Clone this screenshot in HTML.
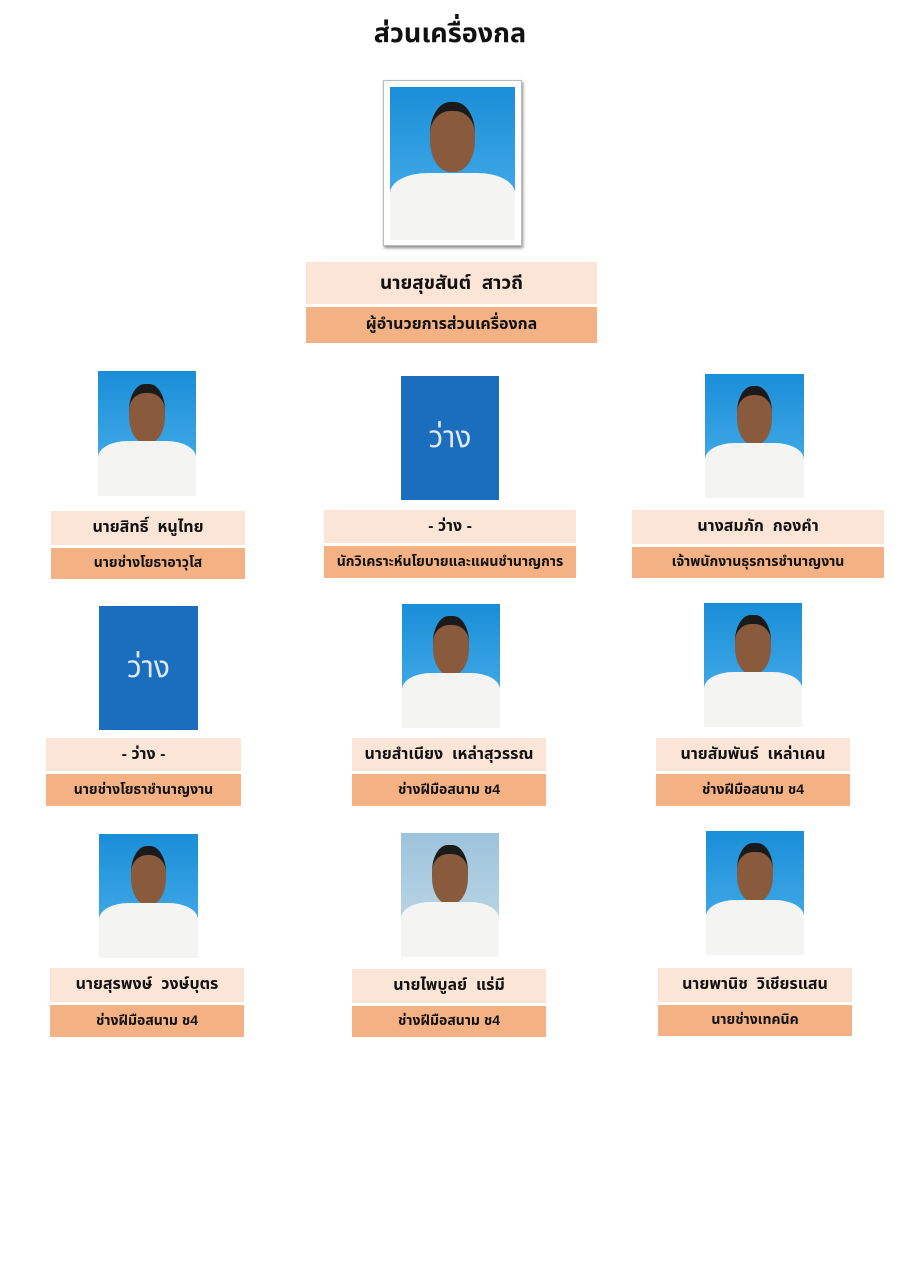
<!DOCTYPE html>
<html><head><meta charset="utf-8">
<style>
body{margin:0;background:#fff;}
#c{position:relative;width:900px;height:1272px;font-family:"Liberation Sans","Noto Sans Thai","Garuda","Loma",sans-serif;font-weight:bold;color:#111;}
.a{position:absolute;box-sizing:border-box;}
.n{background:#fbe5d6;display:flex;align-items:center;justify-content:center;font-size:16px;}
.p{background:#f4b183;display:flex;align-items:center;justify-content:center;font-size:14px;}
.ph{background:linear-gradient(#1a8ed8,#4fb3ec);overflow:hidden;}
.ph .h{position:absolute;left:32%;top:10%;width:36%;height:40%;border-radius:45%;background:#8a5a3c;border-top:9px solid #1a1a1a;}
.ph .b{position:absolute;left:0;right:0;bottom:0;height:44%;background:#f4f4f2;border-radius:30% 30% 0 0;}
.v{background:#1b6dbd;color:#dfe9f6;font-weight:normal;font-size:30px;display:flex;align-items:center;justify-content:center;}
</style></head><body><div id="c">
<div class="a" style="left:0;width:900px;top:14px;text-align:center;font-size:27px;">ส่วนเครื่องกล</div>
<div class="a" style="left:383px;top:80px;width:139px;height:166px;border:1px solid #bbb;box-shadow:1px 2px 3px #888;background:#fff"></div>
<div class="a ph" style="left:390px;top:87px;width:125px;height:153px"><div class="h"></div><div class="b"></div></div>
<div class="a n" style="left:306px;top:262px;width:291px;height:42px;font-size:19px">นายสุขสันต์&nbsp; สาวถี</div>
<div class="a p" style="left:306px;top:307px;width:291px;height:36px;font-size:16px">ผู้อำนวยการส่วนเครื่องกล</div>

<div class="a ph" style="left:98px;top:371px;width:98px;height:125px"><div class="h"></div><div class="b"></div></div>
<div class="a v" style="left:401px;top:376px;width:98px;height:124px">ว่าง</div>
<div class="a ph" style="left:705px;top:374px;width:99px;height:124px"><div class="h"></div><div class="b"></div></div>
<div class="a n" style="left:51px;top:511px;width:194px;height:34px">นายสิทธิ์&nbsp; หนูไทย</div>
<div class="a p" style="left:51px;top:548px;width:194px;height:31px">นายช่างโยธาอาวุโส</div>
<div class="a n" style="left:324px;top:510px;width:252px;height:33px">- ว่าง -</div>
<div class="a p" style="left:324px;top:546px;width:252px;height:32px">นักวิเคราะห์นโยบายและแผนชำนาญการ</div>
<div class="a n" style="left:632px;top:510px;width:252px;height:34px">นางสมภัก&nbsp; กองคำ</div>
<div class="a p" style="left:632px;top:547px;width:252px;height:31px">เจ้าพนักงานธุรการชำนาญงาน</div>

<div class="a v" style="left:99px;top:606px;width:99px;height:124px">ว่าง</div>
<div class="a ph" style="left:402px;top:604px;width:98px;height:124px"><div class="h"></div><div class="b"></div></div>
<div class="a ph" style="left:704px;top:603px;width:98px;height:124px"><div class="h"></div><div class="b"></div></div>
<div class="a n" style="left:46px;top:738px;width:195px;height:33px">- ว่าง -</div>
<div class="a p" style="left:46px;top:774px;width:195px;height:32px">นายช่างโยธาชำนาญงาน</div>
<div class="a n" style="left:352px;top:738px;width:194px;height:33px">นายสำเนียง&nbsp; เหล่าสุวรรณ</div>
<div class="a p" style="left:352px;top:774px;width:194px;height:32px">ช่างฝีมือสนาม ช4</div>
<div class="a n" style="left:656px;top:738px;width:194px;height:33px">นายสัมพันธ์&nbsp; เหล่าเคน</div>
<div class="a p" style="left:656px;top:774px;width:194px;height:32px">ช่างฝีมือสนาม ช4</div>

<div class="a ph" style="left:99px;top:834px;width:99px;height:124px"><div class="h"></div><div class="b"></div></div>
<div class="a ph" style="left:401px;top:833px;width:98px;height:124px;background:linear-gradient(#9cc3dc,#c4dbe8)"><div class="h"></div><div class="b"></div></div>
<div class="a ph" style="left:706px;top:831px;width:98px;height:124px"><div class="h"></div><div class="b"></div></div>
<div class="a n" style="left:50px;top:968px;width:194px;height:34px">นายสุรพงษ์&nbsp; วงษ์บุตร</div>
<div class="a p" style="left:50px;top:1005px;width:194px;height:32px">ช่างฝีมือสนาม ช4</div>
<div class="a n" style="left:352px;top:969px;width:194px;height:34px">นายไพบูลย์&nbsp; แร่มี</div>
<div class="a p" style="left:352px;top:1006px;width:194px;height:31px">ช่างฝีมือสนาม ช4</div>
<div class="a n" style="left:658px;top:968px;width:194px;height:34px">นายพานิช&nbsp; วิเชียรแสน</div>
<div class="a p" style="left:658px;top:1005px;width:194px;height:31px">นายช่างเทคนิค</div>
</div></body></html>
